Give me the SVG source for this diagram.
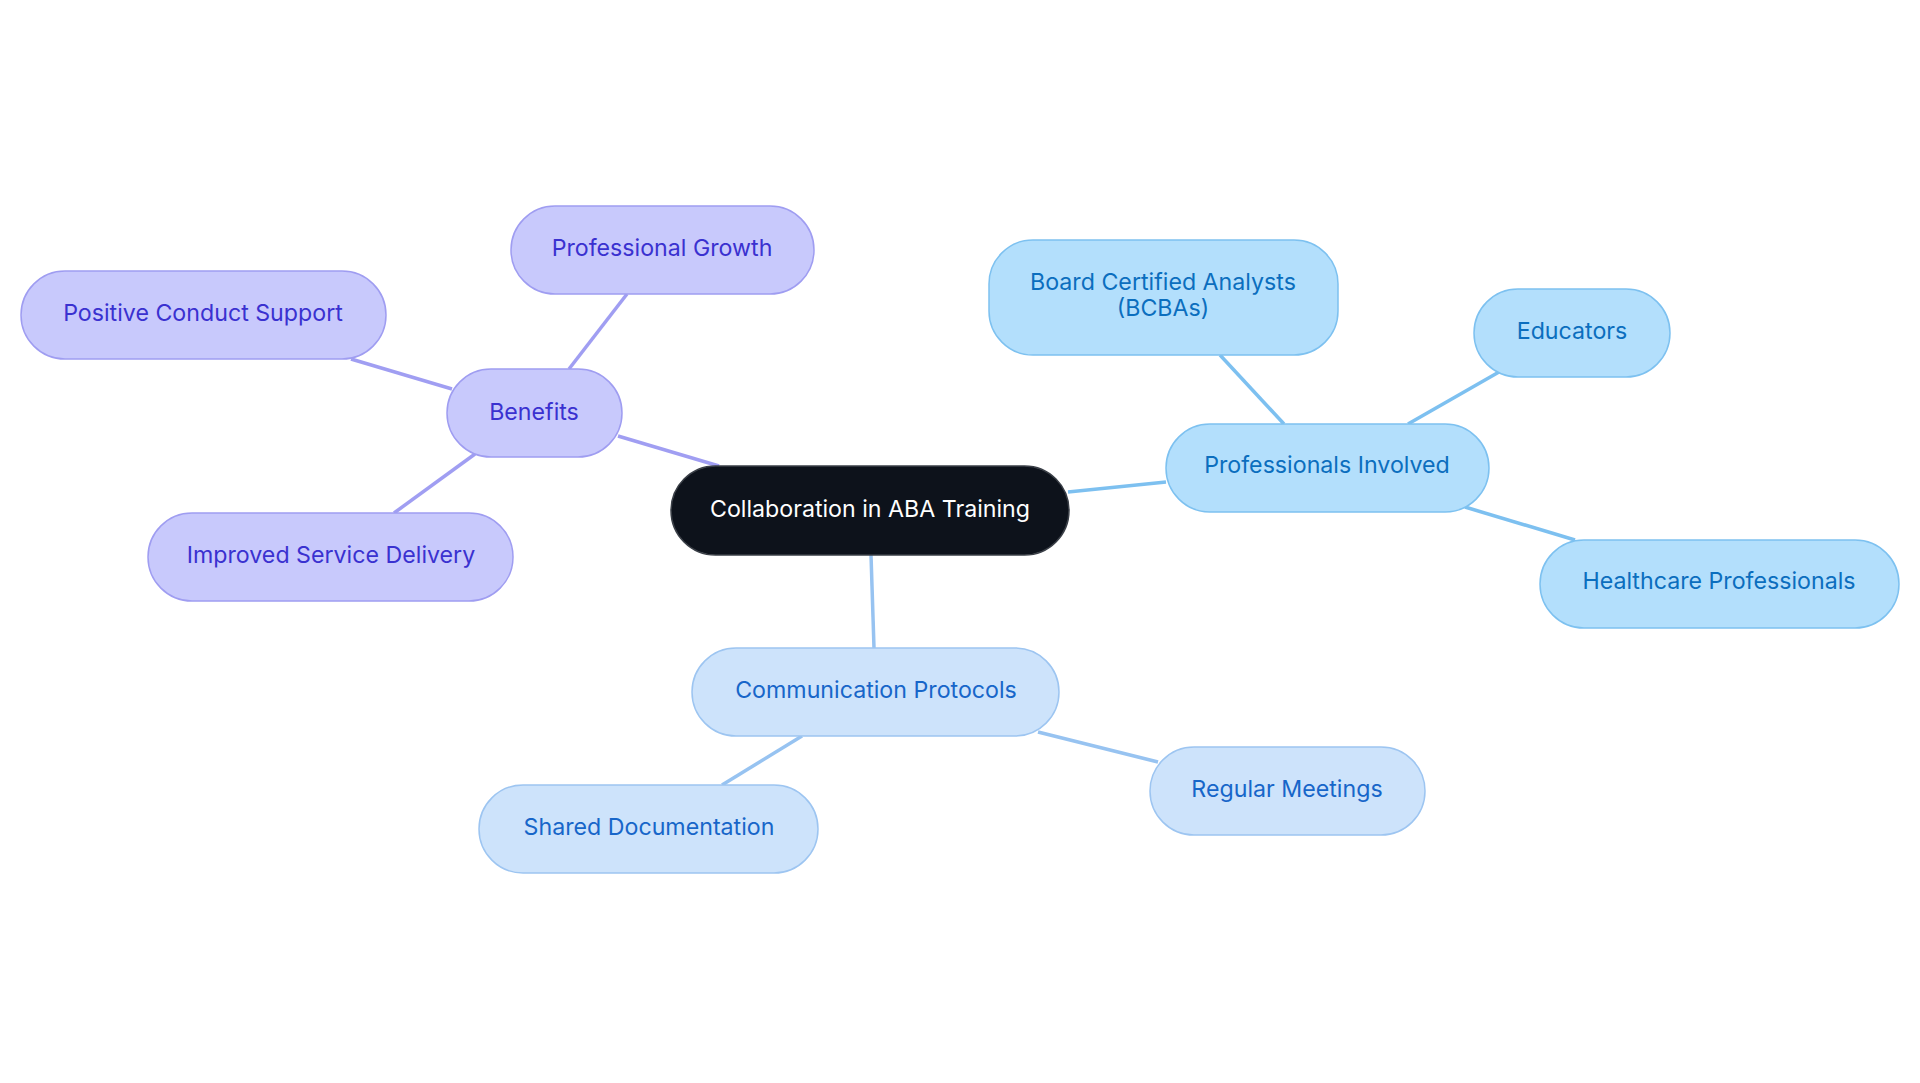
<svg xmlns="http://www.w3.org/2000/svg" width="1920" height="1083" viewBox="0 0 1920 1083">
<style>
text{font-family:Inter,"Noto Sans","Liberation Sans",sans-serif;font-size:23.2px;text-anchor:middle;dominant-baseline:central}
.c rect{fill:#0d121b;stroke:#3a3f47;stroke-width:1.5}
.c text{fill:#ffffff}
.p rect{fill:#c8c9fc;stroke:#9f9df1;stroke-width:1.5}
.p text{fill:#3a31d0}
.b rect{fill:#b3dffc;stroke:#7dc1f0;stroke-width:1.5}
.b text{fill:#0b6ebe}
.l rect{fill:#cde3fb;stroke:#9dc5f1;stroke-width:1.5}
.l text{fill:#1766c9}
.cp{stroke:#a09ef2;stroke-width:3.5;fill:none}
.cb{stroke:#7dc0f0;stroke-width:3.5;fill:none}
.cl{stroke:#97c3f1;stroke-width:3.5;fill:none}
</style>
<rect width="1920" height="1083" fill="#ffffff"/>
<g id="connectors">
<line class="cp" x1="618" y1="436" x2="719" y2="466"/>
<line class="cp" x1="569" y1="369" x2="627" y2="294"/>
<line class="cp" x1="452" y1="389" x2="351" y2="359"/>
<line class="cp" x1="475" y1="454" x2="394" y2="513"/>
<line class="cb" x1="1068" y1="492" x2="1166" y2="482"/>
<line class="cb" x1="1284" y1="424" x2="1220" y2="355"/>
<line class="cb" x1="1408" y1="424" x2="1499" y2="372"/>
<line class="cb" x1="1465" y1="507" x2="1575" y2="540"/>
<line class="cl" x1="871" y1="555" x2="874" y2="648"/>
<line class="cl" x1="802" y1="736" x2="722" y2="785"/>
<line class="cl" x1="1038" y1="732" x2="1158" y2="762"/>
</g>
<g id="central" class="c"><rect x="671" y="466" width="398" height="89" rx="44.5"/><text x="870" y="509">Collaboration in ABA Training</text></g>
<g id="benefits" class="p"><rect x="447" y="369" width="175" height="88" rx="44"/><text x="534" y="412">Benefits</text></g>
<g id="growth" class="p"><rect x="511" y="206" width="303" height="88" rx="44"/><text x="662" y="248">Professional Growth</text></g>
<g id="pcs" class="p"><rect x="21" y="271" width="365" height="88" rx="44"/><text x="203" y="313">Positive Conduct Support</text></g>
<g id="isd" class="p"><rect x="148" y="513" width="365" height="88" rx="44"/><text x="331" y="555">Improved Service Delivery</text></g>
<g id="professionals" class="b"><rect x="1166" y="424" width="323" height="88" rx="44"/><text x="1327" y="465">Professionals Involved</text></g>
<g id="bcba" class="b"><rect x="989" y="240" width="349" height="115" rx="44"/><text x="1163" y="282">Board Certified Analysts</text><text x="1163" y="308">(BCBAs)</text></g>
<g id="educators" class="b"><rect x="1474" y="289" width="196" height="88" rx="44"/><text x="1572" y="331">Educators</text></g>
<g id="healthcare" class="b"><rect x="1540" y="540" width="359" height="88" rx="44"/><text x="1719" y="581">Healthcare Professionals</text></g>
<g id="comm" class="l"><rect x="692" y="648" width="367" height="88" rx="44"/><text x="876" y="690">Communication Protocols</text></g>
<g id="shared" class="l"><rect x="479" y="785" width="339" height="88" rx="44"/><text x="649" y="827">Shared Documentation</text></g>
<g id="meetings" class="l"><rect x="1150" y="747" width="275" height="88" rx="44"/><text x="1287" y="789">Regular Meetings</text></g>
</svg>
